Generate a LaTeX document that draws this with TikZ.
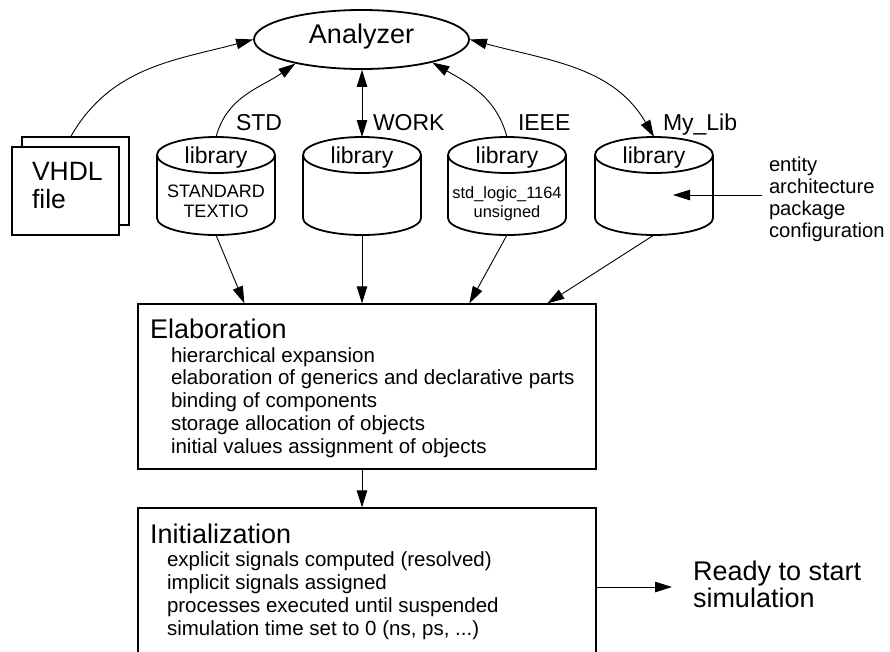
\documentclass[tikz,border=0pt]{standalone}
\usepackage{fontspec}
\setmainfont{Liberation Sans}
\usetikzlibrary{arrows.meta,calc,shapes.geometric}

\tikzset{
  conn/.style={line width=0.9pt,-{Triangle[length=17pt,width=10.5pt]}},
  dconn/.style={line width=0.9pt,{Triangle[length=17pt,width=10.5pt]}-{Triangle[length=17pt,width=10.5pt]}},
  heavy/.style={line width=1.8pt},
  boxline/.style={line width=1.3pt},
  txt/.style={inner sep=0pt,outer sep=0pt},
  fbig/.style={font=\fontsize{27}{27}\selectfont},
  fvhdl/.style={font=\fontsize{26.5}{28}\selectfont},
  flabel/.style={font=\fontsize{23}{27}\selectfont},
  fitem/.style={font=\fontsize{20.5}{22.75}\selectfont,align=left},
  fattr/.style={font=\fontsize{20.2}{21.7}\selectfont,align=left},
  fstd/.style={font=\fontsize{18}{20}\selectfont,align=center},
  fieee/.style={font=\fontsize{16.4}{19}\selectfont,align=center},
  % library drawn as a cylinder; (-box) spans the whole body
  libcyl/.pic={
    \node[minimum width=118pt,minimum height=98pt,inner sep=0pt,outer sep=0pt] (-box) {};
    \draw[heavy] (-59,31) -- (-59,-32) arc[start angle=180,end angle=360,x radius=59,y radius=17] -- (59,31);
    \draw[heavy] (0,31) ellipse[x radius=59,y radius=18];
    \node[txt,flabel,anchor=base] (-name) at (0,23) {library};
  }
}

\begin{document}
\begin{tikzpicture}[x=1pt,y=1pt]
  \useasboundingbox (0,0) rectangle (890,-651);
  \clip (0,0) rectangle (890,-651);

  % analyzer
  \node[ellipse,draw,heavy,minimum width=215pt,minimum height=59pt,inner sep=0pt,
        fbig,text height=18.5pt,text depth=11pt] (analyzer) at (361.5,-39.5) {Analyzer};

  % VHDL source files (multi-line nodes sit on their last baseline)
  \node[draw,heavy,fill=white,minimum width=107pt,minimum height=88pt,inner sep=0pt] (vhdlback) at (75.5,-181) {};
  \node[draw,heavy,fill=white,minimum width=107pt,minimum height=88pt,inner sep=0pt] (vhdl) at (65.5,-191) {};
  \node[txt,fvhdl,align=left,anchor=base west] (vhdltext) at (32,-208) {VHDL\\file};

  % libraries
  \pic (std) at (216,-186) {libcyl};
  \pic (work) at (362,-186) {libcyl};
  \pic (ieee) at (507,-186) {libcyl};
  \pic (mylib) at (654,-186) {libcyl};
  \node[txt,fstd,anchor=base] (stdcont) at ([yshift=-31pt]std-box.center) {STANDARD\\TEXTIO};
  \node[txt,fieee,anchor=base] (ieeecont) at ([yshift=-31pt]ieee-box.center) {std\_logic\_1164\\unsigned};

  \node[txt,flabel,anchor=base west] (stdlbl) at (236,-130) {STD};
  \node[txt,flabel,anchor=base west] (worklbl) at (373,-130) {WORK};
  \node[txt,flabel,anchor=base west] (ieeelbl) at (518,-130) {IEEE};
  \node[txt,flabel,anchor=base west] (mylibbl) at (663,-130) {My\_Lib};

  % design units stored in a library
  \node[txt,fattr,anchor=base west] (attrs) at (769,-237) {entity\\architecture\\package\\configuration};
  \coordinate (mylibin) at ([shift={(19pt,-9pt)}]mylib-box.center);
  \draw[conn] ($(attrs.west |- mylibin)+(-7,0)$) -- (mylibin);

  % elaboration
  \node[draw,boxline,minimum width=458pt,minimum height=165pt,inner sep=0pt] (elab) at (367,-386.5) {};
  \node[txt,fbig,anchor=base west] (elabtitle) at (150,-338) {Elaboration};
  \node[txt,fitem,anchor=base west] (elabitems) at (171,-453)
    {hierarchical expansion\\elaboration of generics and declarative parts\\binding of components\\storage allocation of objects\\initial values assignment of objects};

  % initialization
  \node[draw,boxline,minimum width=458pt,minimum height=192pt,inner sep=0pt] (init) at (367,-604) {};
  \node[txt,fbig,anchor=base west] (inittitle) at (150,-543) {Initialization};
  \node[txt,fitem,anchor=base west] (inititems) at (167,-635)
    {explicit signals computed (resolved)\\implicit signals assigned\\processes executed until suspended\\simulation time set to 0 (ns, ps, ...)};

  \node[txt,fbig,align=left,anchor=base west] (ready) at (693,-607) {Ready to start\\simulation};

  % connectors into the analyzer
  \draw[conn] ([xshift=-4.5pt]vhdlback.north) to[out=60,in=195] (analyzer.west);
  \draw[conn] (std-box.north) to[out=75,in=215] (analyzer.200);
  \draw[dconn] (analyzer.south -| work-box.north) -- (work-box.north);
  \draw[conn] (ieee-box.north) to[out=105,in=-30] (analyzer.342);
  \draw[dconn] (analyzer.east) to[out=-15,in=120] (mylib-box.north);

  % libraries into elaboration
  \draw[conn] (std-box.south) -- ([xshift=107pt]elab.north west);
  \draw[conn] (work-box.south) -- (work-box.south |- elab.north);
  \draw[conn] (ieee-box.south) -- ([xshift=332pt]elab.north west);
  \draw[conn] (mylib-box.south) -- ([xshift=410pt]elab.north west);

  % elaboration -> initialization -> ready
  \draw[conn] (work-box.south |- elab.south) -- (work-box.south |- init.north);
  \draw[conn] (init.east |- 0,-587) -- ([xshift=-21pt]ready.west |- 0,-587);
\end{tikzpicture}
\end{document}
